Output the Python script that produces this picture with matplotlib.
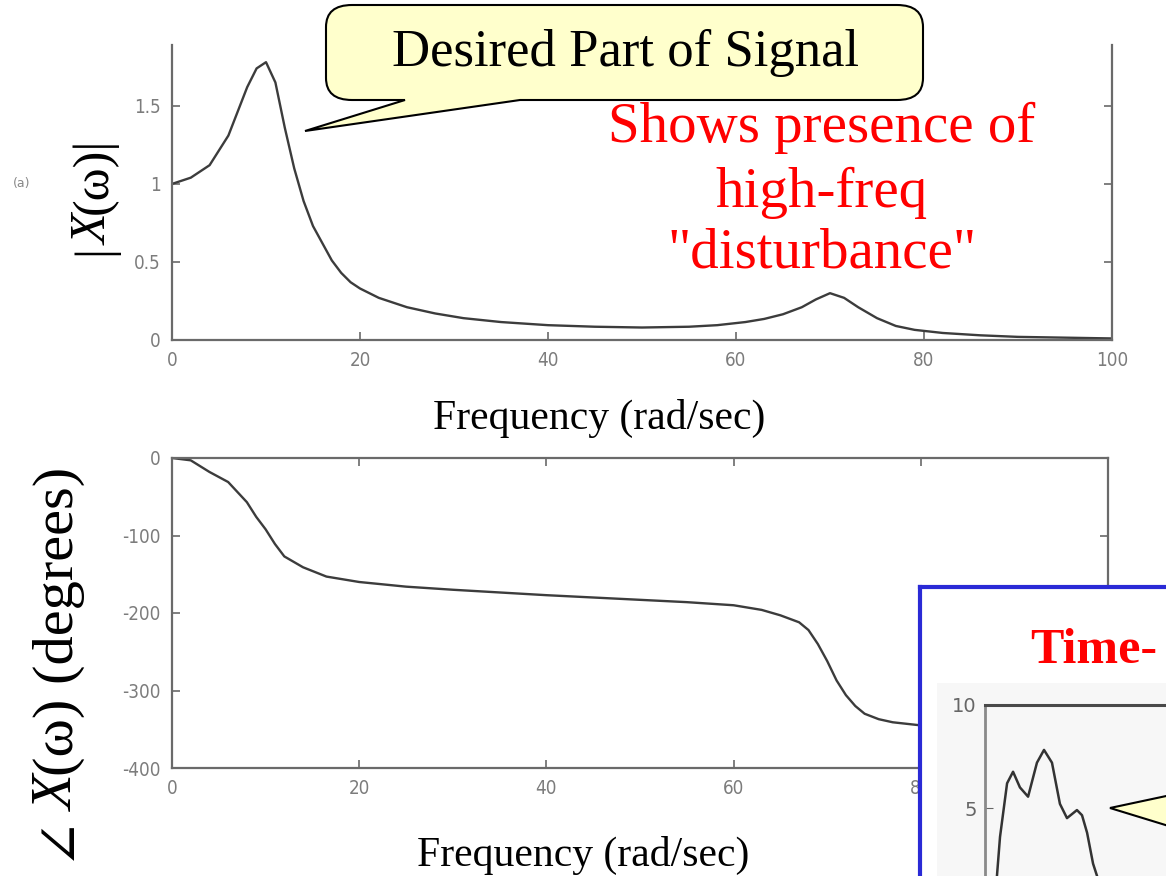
import matplotlib
matplotlib.use("Agg")
import matplotlib.pyplot as plt
from matplotlib import font_manager
from matplotlib.font_manager import FontProperties
from matplotlib.patches import Polygon, Rectangle, PathPatch
from matplotlib.path import Path

# ---------------- data ----------------
freq_mag = [0, 2, 4, 6, 8, 9, 10, 11, 12, 13, 14, 15, 16, 17, 18, 19, 20, 22, 25,
            28, 31, 35, 40, 45, 50, 55, 58, 61, 63, 65, 67, 68.5, 70, 71.5, 73,
            75, 77, 79, 82, 86, 90, 95, 100]
magnitude = [1.00, 1.04, 1.12, 1.31, 1.62, 1.74, 1.78, 1.65, 1.36, 1.10, 0.89, 0.73,
             0.62, 0.51, 0.43, 0.37, 0.33, 0.27, 0.21, 0.17, 0.14, 0.115, 0.095,
             0.085, 0.08, 0.085, 0.095, 0.115, 0.135, 0.165, 0.21, 0.26, 0.30,
             0.27, 0.21, 0.14, 0.09, 0.065, 0.045, 0.03, 0.02, 0.015, 0.01]

freq_phase = [0, 2, 4, 6, 8, 9, 10, 11, 12, 14, 16.5, 20, 25, 30, 40, 50, 55, 60,
              63, 65, 67, 68, 69, 70, 71, 72, 73, 74, 75.5, 77, 80, 85, 90, 95, 100]
phase_deg = [0, -3, -18, -31, -57, -76, -92, -111, -127, -141, -153, -160, -166,
             -170, -177, -183, -186, -190, -196, -203, -212, -222, -240, -262,
             -287, -306, -320, -330, -337, -341, -345, -350, -353, -355, -357]

time_t = [0.055, 0.066, 0.083, 0.122, 0.155, 0.193, 0.238, 0.287, 0.326, 0.370,
          0.414, 0.453, 0.508, 0.536, 0.564, 0.597, 0.619, 0.632]
time_x = [0.5, 1.7, 3.6, 6.2, 6.76, 6.0, 5.55, 7.2, 7.82, 7.2, 5.2, 4.51, 4.9,
          4.65, 3.8, 2.3, 1.7, 0.8]

freq_ticks = [0, 20, 40, 60, 80, 100]
freq_ticklabels = ["0", "20", "40", "60", "80", "100"]
mag_ticks = [0, 0.5, 1, 1.5]
mag_ticklabels = ["0", "0.5", "1", "1.5"]
phase_ticks = [0, -100, -200, -300, -400]
phase_ticklabels = ["0", "-100", "-200", "-300", "-400"]
time_ticks = [5, 10]
time_ticklabels = ["5", "10"]

# ---------------- fonts ----------------
names = {f.name for f in font_manager.fontManager.ttflist}
if "Liberation Sans Narrow" in names:
    tick_fp = FontProperties(family="Liberation Sans Narrow", size=14)
else:
    tick_fp = FontProperties(family="DejaVu Sans", stretch="condensed", size=13.5)
serif = ["Liberation Serif", "DejaVu Serif"]

W, H = 1166, 876
fig = plt.figure(figsize=(W / 100, H / 100), dpi=100)
fig.patch.set_facecolor("white")


def rect(l, t, r, b):
    return [l / W, 1 - b / H, (r - l) / W, (b - t) / H]


def pt(x, y):
    return (x / W, 1 - y / H)


SPINE = "#6a6a6a"
CURVE = "#3c3c3c"
TICKC = "#7c7c7c"


def style_axes(ax, top_ticks=True):
    for s in ax.spines.values():
        s.set_color(SPINE)
        s.set_linewidth(1.6)
    ax.tick_params(direction="in", length=6, width=1.2, color=SPINE,
                   right=True, top=top_ticks, labelcolor=TICKC, pad=8)


# ---------------- magnitude plot ----------------
ax1 = fig.add_axes(rect(172, 45, 1112, 340))
ax1.plot(freq_mag, magnitude, color=CURVE, lw=1.7)
ax1.set_xlim(0, 100)
ax1.set_ylim(0, 1.89)
ax1.set_xticks(freq_ticks)
ax1.set_xticklabels(freq_ticklabels)
ax1.set_yticks(mag_ticks)
ax1.set_yticklabels(mag_ticklabels)
style_axes(ax1, top_ticks=False)
ax1.spines["top"].set_visible(False)
for lbl in ax1.get_xticklabels() + ax1.get_yticklabels():
    lbl.set_fontproperties(tick_fp)

# ---------------- phase plot ----------------
ax2 = fig.add_axes(rect(172, 458, 1108, 768))
ax2.plot(freq_phase, phase_deg, color=CURVE, lw=1.7)
ax2.set_xlim(0, 100)
ax2.set_ylim(-400, 0)
ax2.set_xticks(freq_ticks)
ax2.set_xticklabels(freq_ticklabels)
ax2.set_yticks(phase_ticks)
ax2.set_yticklabels(phase_ticklabels)
style_axes(ax2, top_ticks=True)
for lbl in ax2.get_xticklabels() + ax2.get_yticklabels():
    lbl.set_fontproperties(tick_fp)

# ---------------- labels ----------------
fig.text(*pt(599, 418), "Frequency (rad/sec)", family=serif, fontsize=30,
         ha="center", va="center", color="black")
fig.text(*pt(583, 855), "Frequency (rad/sec)", family=serif, fontsize=30,
         ha="center", va="center", color="black")
fig.text(*pt(22, 183), "(a)", fontproperties=FontProperties(family=tick_fp.get_family(), size=9),
         color="#888888", ha="center", va="center")

renderer = fig.canvas.get_renderer()


def vertical_rich(x_base, y_bottom, pieces, size):
    y = y_bottom
    for s, style in pieces:
        fp = FontProperties(family=serif, style=style, size=size)
        fig.text(*pt(x_base, y), s, fontproperties=fp, rotation=90,
                 rotation_mode="anchor", ha="left", va="baseline", color="black")
        w, h, d = renderer.get_text_width_height_descent(s, fp, ismath=False)
        y -= w


vertical_rich(107, 255, [("|", "normal"), ("X", "italic"), ("(ω)|", "normal")], 36)
vertical_rich(73, 860, [("∠", "normal"), ("X", "italic"), ("(ω) (degrees)", "normal")], 42)

# ---------------- callout "Desired Part of Signal" ----------------
x0, x1, y0, y1, rx, ry = 326, 923, 5, 100, 26, 22
bl, br, tip = 405, 520, (305, 131)
verts = [
    (x0 + rx, y0), (x1 - rx, y0), (x1, y0), (x1, y0 + ry), (x1, y1 - ry),
    (x1, y1), (x1 - rx, y1), (br, y1), tip, (bl, y1), (x0 + rx, y1),
    (x0, y1), (x0, y1 - ry), (x0, y0 + ry), (x0, y0), (x0 + rx, y0), (x0 + rx, y0),
]
codes = [Path.MOVETO, Path.LINETO, Path.CURVE3, Path.CURVE3, Path.LINETO,
         Path.CURVE3, Path.CURVE3, Path.LINETO, Path.LINETO, Path.LINETO,
         Path.LINETO, Path.CURVE3, Path.CURVE3, Path.LINETO, Path.CURVE3,
         Path.CURVE3, Path.CLOSEPOLY]
bubble = PathPatch(Path([pt(*v) for v in verts], codes), transform=fig.transFigure,
                   facecolor="#ffffcc", edgecolor="black", lw=1.5, zorder=5)
fig.add_artist(bubble)
fig.text(*pt(625, 66), "Desired Part of Signal", family=serif, fontsize=38,
         ha="center", va="baseline", color="black", zorder=6)

# ---------------- red annotation ----------------
for line, yb in [("Shows presence of", 142), ("high-freq", 207), ('"disturbance"', 267)]:
    fig.text(*pt(822, yb), line, family=serif, fontsize=41, ha="center",
             va="baseline", color="#ff0000", zorder=6)

# ---------------- time-domain inset box ----------------
box = fig.add_axes(rect(920, 587, W, H))
box.set_xlim(0, 1)
box.set_ylim(0, 1)
box.set_xticks([])
box.set_yticks([])
box.set_facecolor("white")
for side in ["right", "bottom"]:
    box.spines[side].set_visible(False)
for side in ["left", "top"]:
    box.spines[side].set_color("#2a2ad6")
    box.spines[side].set_linewidth(3)
box.set_zorder(3)
bx = lambda px: (px - 920) / (W - 920)
by = lambda py: 1 - (py - 587) / (H - 587)
box.add_patch(Rectangle((bx(937), 0), 1 - bx(937), by(683), facecolor="#f7f7f7",
                        edgecolor="none"))
box.text(bx(1030), by(663), "Time-", family=serif, fontsize=36,
         fontweight="bold", color="#ff0000", ha="left", va="baseline")

ax3 = fig.add_axes(rect(985, 705, W, H))
ax3.set_zorder(4)
ax3.patch.set_alpha(0)
ax3.plot(time_t, time_x, color="#333333", lw=1.8)
ax3.set_xlim(0, 1)
ax3.set_ylim(1.7, 10)
ax3.set_xticks([])
ax3.set_yticks(time_ticks)
ax3.set_yticklabels(time_ticklabels)
ax3.spines["right"].set_visible(False)
ax3.spines["bottom"].set_visible(False)
ax3.spines["left"].set_color("#8a8a8a")
ax3.spines["left"].set_linewidth(2)
ax3.spines["top"].set_color("#4a4a4a")
ax3.spines["top"].set_linewidth(2.2)
ax3.tick_params(direction="in", length=6, color="#666666", labelcolor="#666666", pad=6)
for lbl in ax3.get_yticklabels():
    lbl.set_fontproperties(FontProperties(family=tick_fp.get_family(), size=14))

# pointer of a second callout entering from the right edge
fig.add_artist(Polygon([pt(1110, 808), pt(1185, 792), pt(1185, 831)], closed=True,
                       transform=fig.transFigure, facecolor="#ffffcc",
                       edgecolor="black", lw=1.5, zorder=6))

fig.savefig("out.png", dpi=100, facecolor="white")
